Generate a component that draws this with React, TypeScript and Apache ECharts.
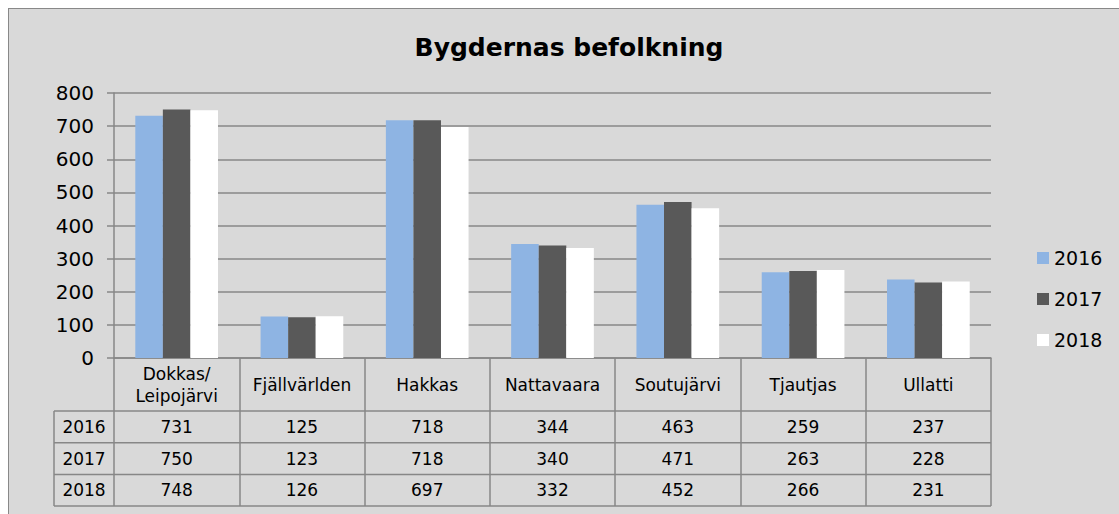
import React, { useEffect, useRef } from "react";
import * as echarts from "echarts";

const categories = ["Dokkas/\nLeipojärvi", "Fjällvärlden", "Hakkas", "Nattavaara", "Soutujärvi", "Tjautjas", "Ullatti"];
const seriesNames = ["2016", "2017", "2018"];
const values2016 = [731, 125, 718, 344, 463, 259, 237];
const values2017 = [750, 123, 718, 340, 471, 263, 228];
const values2018 = [748, 126, 697, 332, 452, 266, 231];
const yTicks = [0, 100, 200, 300, 400, 500, 600, 700, 800];

const COLORS = ["#8eb4e3", "#595959", "#ffffff"];
const FONT = "DejaVu Sans, Verdana, sans-serif";
const LINE = "#878787";

const W = 1110;
const H = 505;
const GRID_LEFT = 105;
const GRID_TOP = 84;
const GRID_RIGHT = 128;
const GRID_BOTTOM = 156;
const HEADER_H = 53;
const ROW_H = 31.7;
const ROW_COL_LEFT = 45;

export default function App() {
  const ref = useRef<HTMLDivElement>(null);
  useEffect(() => {
    if (!ref.current) return;
    const chart = echarts.init(ref.current, null, { renderer: "svg" });
    const rows = [values2016, values2017, values2018];
    const axisBottom = H - GRID_BOTTOM;
    const gridRight = W - GRID_RIGHT;

    const extraAxes: any[] = rows.map((row, i) => ({
      type: "category",
      gridIndex: 0,
      position: "bottom",
      offset: HEADER_H + ROW_H * i,
      data: categories,
      axisLine: { show: false },
      axisTick: { show: false },
      axisLabel: {
        formatter: (_v: string, idx: number) => String(row[idx]),
        fontSize: 17,
        fontFamily: FONT,
        color: "#000",
        margin: ROW_H / 2,
        verticalAlign: "middle",
        interval: 0,
      },
    }));

    const graphics: any[] = [];
    for (let i = 0; i <= rows.length; i++) {
      const y = axisBottom + HEADER_H + ROW_H * i;
      graphics.push({
        type: "line",
        shape: { x1: ROW_COL_LEFT, y1: y, x2: gridRight, y2: y },
        style: { stroke: LINE, lineWidth: 1.5 },
        silent: true,
      });
    }
    graphics.push({
      type: "line",
      shape: {
        x1: ROW_COL_LEFT,
        y1: axisBottom + HEADER_H,
        x2: ROW_COL_LEFT,
        y2: axisBottom + HEADER_H + ROW_H * rows.length,
      },
      style: { stroke: LINE, lineWidth: 1.5 },
      silent: true,
    });
    seriesNames.forEach((name, i) => {
      graphics.push({
        type: "text",
        x: (ROW_COL_LEFT + GRID_LEFT) / 2,
        y: axisBottom + HEADER_H + ROW_H * i + ROW_H / 2,
        style: {
          text: name,
          fontSize: 17,
          fontFamily: FONT,
          fill: "#000",
          align: "center",
          verticalAlign: "middle",
        },
        silent: true,
      });
    });

    chart.setOption({
      animation: false,
      backgroundColor: "#d9d9d9",
      title: {
        text: "Bygdernas befolkning",
        left: 555,
        top: 21,
        textAlign: "center",
        textStyle: { fontSize: 25, fontWeight: "bold", fontFamily: FONT, color: "#000" },
      },
      legend: {
        orient: "vertical",
        left: 1023,
        top: 234,
        itemWidth: 12,
        itemHeight: 12,
        itemGap: 21,
        icon: "rect",
        data: seriesNames,
        textStyle: { fontSize: 19, fontFamily: FONT, color: "#000", lineHeight: 20 },
      },
      grid: { left: GRID_LEFT, right: GRID_RIGHT, top: GRID_TOP, bottom: GRID_BOTTOM },
      xAxis: [
        {
          type: "category",
          data: categories,
          position: "bottom",
          axisLine: { show: true, lineStyle: { color: LINE, width: 1.5 } },
          axisTick: {
            show: true,
            alignWithLabel: false,
            length: HEADER_H + ROW_H * 3,
            lineStyle: { color: LINE, width: 1.5 },
          },
          axisLabel: {
            fontSize: 17,
            fontFamily: FONT,
            color: "#000",
            margin: HEADER_H / 2,
            verticalAlign: "middle",
            lineHeight: 22,
            interval: 0,
          },
        },
        ...extraAxes,
      ],
      yAxis: {
        type: "value",
        min: yTicks[0],
        max: yTicks[yTicks.length - 1],
        interval: yTicks[1] - yTicks[0],
        axisLine: { show: true, lineStyle: { color: LINE, width: 1.5 } },
        axisTick: { show: true, length: 7, lineStyle: { color: LINE, width: 1.5 } },
        splitLine: { show: true, lineStyle: { color: LINE, width: 1.5 } },
        axisLabel: { fontSize: 20, fontFamily: FONT, color: "#000", margin: 20 },
      },
      series: rows.map((row, i) => ({
        name: seriesNames[i],
        type: "bar",
        data: row,
        itemStyle: { color: COLORS[i] },
        barGap: "0%",
        barCategoryGap: "34%",
      })),
      graphic: graphics,
    });
    return () => chart.dispose();
  }, []);
  return (
    <div
      style={{
        position: "fixed",
        left: 8,
        top: 8,
        width: 1111,
        height: 506,
        borderLeft: "1px solid #888",
        borderTop: "1px solid #888",
        boxSizing: "border-box",
        background: "#d9d9d9",
      }}
    >
      <div ref={ref} style={{ width: W, height: H }} />
    </div>
  );
}
